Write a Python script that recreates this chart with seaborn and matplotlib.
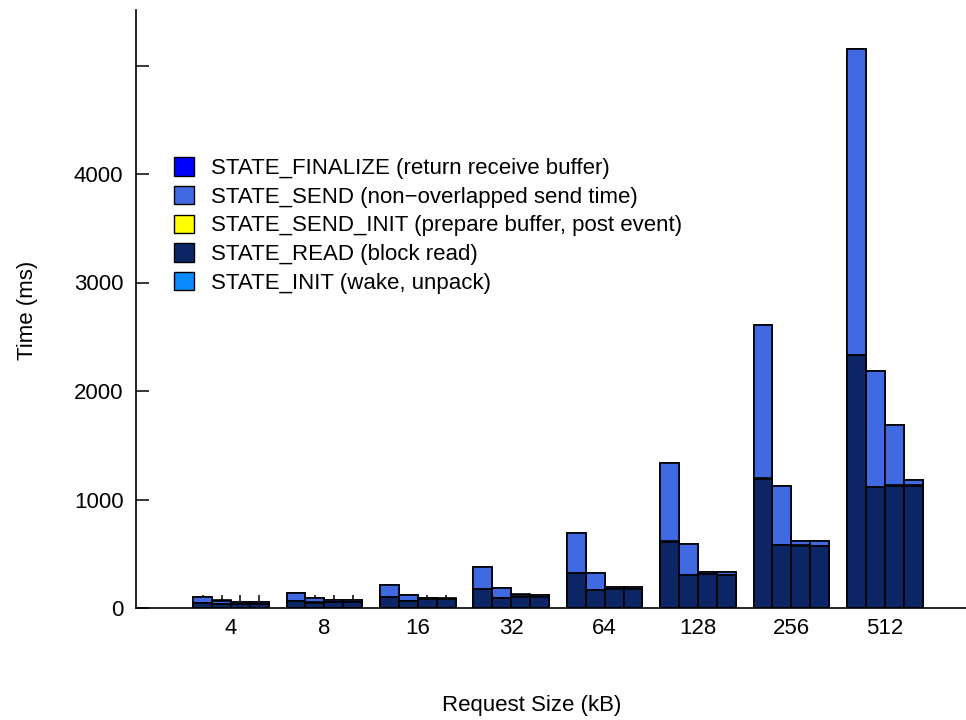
import matplotlib
matplotlib.use("Agg")
import matplotlib.pyplot as plt
from matplotlib.patches import Patch
import numpy as np
import pandas as pd
import seaborn as sns

# Request sizes (kB) and the four runs shown for each size
sizes = ["4", "8", "16", "32", "64", "128", "256", "512"]
runs = ["r1", "r2", "r3", "r4"]

# Per-state times (ms): one row per request size, one column per run
state_init = [
    [2, 2, 2, 2], [2, 2, 2, 2], [2, 2, 2, 2], [2, 2, 2, 2],
    [2, 2, 2, 2], [2, 2, 2, 2], [3, 3, 3, 3], [3, 3, 3, 3],
]
state_read = [
    [46, 34, 36, 36],
    [63, 48, 50, 50],
    [97, 63, 78, 78],
    [170, 93, 102, 98],
    [318, 164, 173, 173],
    [609, 302, 308, 303],
    [1190, 579, 572, 569],
    [2327, 1108, 1122, 1122],
]
state_send_init = [
    [1, 1, 1, 1], [1, 1, 1, 1], [1, 1, 1, 1], [1, 1, 1, 1],
    [1, 1, 1, 1], [2, 2, 2, 2], [2, 2, 2, 2], [3, 3, 10, 10],
]
state_send = [
    [48, 32, 18, 18],
    [71, 37, 20, 20],
    [114, 57, 8, 6],
    [201, 90, 19, 18],
    [372, 152, 18, 16],
    [723, 284, 23, 25],
    [1416, 544, 39, 40],
    [2821, 1073, 551, 46],
]
state_finalize = [
    [1, 1, 1, 1], [1, 1, 1, 1], [1, 1, 1, 1], [1, 1, 1, 1],
    [1, 1, 1, 1], [1, 1, 1, 1], [1, 1, 1, 1], [1, 1, 1, 1],
]

layer_names = [
    "STATE_INIT (wake, unpack)",
    "STATE_READ (block read)",
    "STATE_SEND_INIT (prepare buffer, post event)",
    "STATE_SEND (non\u2212overlapped send time)",
    "STATE_FINALIZE (return receive buffer)",
]
layer_values = [state_init, state_read, state_send_init, state_send, state_finalize]
layer_colors = ["#0a8cff", "#0b2565", "#ffff00", "#4169e1", "#0000ff"]

ytick_values = [0, 1000, 2000, 3000, 4000, 5000]
ytick_labels = ["0", "1000", "2000", "3000", "4000", ""]

sns.set_style("ticks", {"axes.edgecolor": "black", "text.color": "black",
                        "xtick.color": "black", "ytick.color": "black",
                        "axes.labelcolor": "black"})
plt.rcParams["font.family"] = ["Liberation Sans", "DejaVu Sans"]

FS = 16

fig = plt.figure(figsize=(9.66, 7.2), dpi=100)
ax = fig.add_axes([136 / 966, 112 / 720, 1 - 136 / 966, (608 - 10) / 720])

# cumulative heights, bottom state first
arr = np.array(layer_values, dtype=float)  # layer, size, run
cum = np.cumsum(arr, axis=0)

group_width = 0.81
# draw tallest cumulative stack first, then each lower stack on top of it
for k in range(len(layer_names) - 1, -1, -1):
    rows = []
    for i, s in enumerate(sizes):
        for j, r in enumerate(runs):
            rows.append({"size": s, "run": r, "cum": cum[k, i, j]})
    df = pd.DataFrame(rows)
    sns.barplot(
        data=df, x="size", y="cum", hue="run", order=sizes, hue_order=runs,
        palette=[layer_colors[k]] * len(runs), saturation=1, dodge=True,
        width=group_width, edgecolor="black", linewidth=1.2,
        errorbar=None, legend=False, ax=ax,
    )

sns.despine(ax=ax)
ax.set_axisbelow(True)
ax.spines["left"].set_linewidth(1.2)
ax.spines["bottom"].set_linewidth(1.2)

bar_w = group_width / len(runs)
offsets = (np.arange(len(runs)) - (len(runs) - 1) / 2) * bar_w
bar_centers = [g + o for g in range(len(sizes)) for o in offsets]
ax.set_xticks(bar_centers)
ax.set_xticklabels([])
ax.set_xticks(range(len(sizes)), minor=True)
ax.set_xticklabels(sizes, minor=True)
ax.tick_params(axis="x", which="major", direction="in", length=9.5, width=1.1)
ax.tick_params(axis="x", which="minor", length=0, pad=7, labelsize=FS)

ax.set_yticks(ytick_values)
ax.set_yticklabels(ytick_labels)
ax.tick_params(axis="y", direction="in", length=9.5, width=1.1, pad=9, labelsize=FS)

ax.set_xlim((136 - 231) / 93.4, (966 - 231) / 93.4)
ax.set_ylim(0, 598 / 108.5 * 1000)

ax.set_xlabel("")
ax.set_ylabel("")
fig.text(532 / 966, 1 - 705 / 720, "Request Size (kB)", ha="center", va="center", fontsize=FS)
fig.text(28 / 966, 1 - 310 / 720, "Time (ms)", ha="center", va="center",
         rotation=90, fontsize=FS)

handles = [Patch(facecolor=layer_colors[k], edgecolor="black", linewidth=1.0,
                 label=layer_names[k]) for k in range(len(layer_names) - 1, -1, -1)]
ax.legend(handles=handles, loc="upper left", bbox_to_anchor=(170 / 966, 1 - 153 / 720),
          bbox_transform=fig.transFigure, frameon=False, fontsize=FS,
          handlelength=0.9, handleheight=0.9, handletextpad=0.75,
          labelspacing=0.3, borderaxespad=0, borderpad=0.2)

fig.savefig("out.png", dpi=100)
